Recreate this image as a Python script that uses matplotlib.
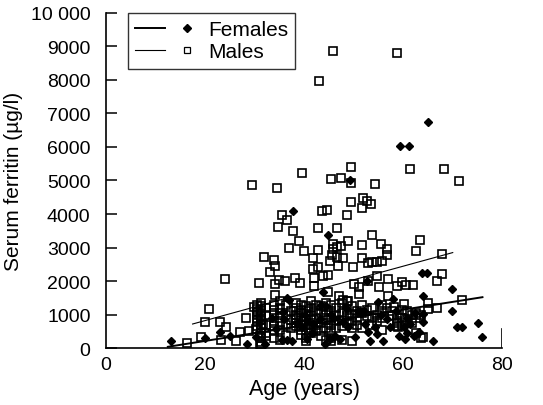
import numpy as np
import matplotlib
matplotlib.use("Agg")
import matplotlib.pyplot as plt
from matplotlib.legend_handler import HandlerTuple

plt.rcParams['font.family'] = ['Liberation Sans', 'DejaVu Sans']

# scattered male values (age in years, serum ferritin in ug/l)
male_age = [45.8, 58.7, 43.0, 39.5, 29.5, 34.5, 45.4, 47.4, 49.4, 49.4, 54.3, 61.4, 68.3, 71.3,
            35.6, 36.6, 34.8, 37.8, 38.9, 39.9, 36.9, 32.0, 33.9, 34.1, 33.2, 34.1, 31.0, 24.0,
            35.0, 36.2, 38.2, 39.2, 34.2, 20.9,
            49.5, 51.8, 52.6, 53.5, 51.6, 48.6, 43.6, 44.6, 42.8, 46.7, 53.7, 48.9, 47.4, 45.8,
            42.9, 45.9, 46.7, 51.7, 55.5, 56.7, 56.8, 63.3, 62.6,
            41.8, 45.7, 46.7, 47.9, 51.7, 52.9, 53.8, 54.7, 55.8, 41.9, 42.9, 46.8, 49.8, 45.3, 67.8,
            43.9, 44.9, 67.8, 66.8, 52.8, 54.8, 57.0, 50.0, 51.0, 51.0, 55.1, 58.7, 59.7, 60.6, 61.9,
            42.0, 42.0, 44.9, 47.1, 56.9, 48.9, 47.9, 58.1, 60.1, 65.1, 65.0, 71.9, 66.8, 58.7, 58.9, 64.1,
            16.3, 19.1, 20.1, 23.2, 23.0, 24.2, 26.3, 27.1, 28.3, 28.8, 30.2, 29.8, 30.4, 31.2, 31.2,
            31.4, 31.8]
male_ferritin = [8875, 8806, 7980, 5224, 4875, 4776, 5055, 5075, 5413, 4915, 4895, 5343, 5343, 4995,
                 3970, 3831, 3622, 3483, 3184, 2905, 2975, 2706, 2637, 2448, 2259, 1900, 1930, 2060,
                 2040, 2010, 2080, 1930, 1592, 1164,
                 4368, 4487, 4388, 4298, 4189, 3980, 4080, 4130, 3572, 3592, 3383, 3184, 3035, 3104,
                 2935, 2955, 3005, 3075, 3104, 2955, 2776, 3234, 2905,
                 2687, 2776, 2726, 2677, 2696, 2527, 2557, 2577, 2607, 2358, 2408, 2458, 2428, 2587, 2806,
                 2139, 2189, 2209, 2010, 2010, 2139, 2060, 1910, 1811, 1612, 1811, 1861, 1960, 1890, 1890,
                 2090, 1841, 1662, 1562, 1542, 1413, 1433, 1214, 1313, 1164, 1343, 1433, 1184, 746, 617, 338,
                 150, 320, 786, 250, 786, 617, 199, 468, 886, 517, 567, 1214, 1065, 119, 348,
                 866, 716]

# crowded low-value male columns: age -> values
male_dense = {
    30.4: [1300, 1180, 1080, 980, 880, 790, 650],
    31.3: [1350, 1250, 1150, 1050, 950, 850, 700, 600, 450, 300, 180, 60],
    32.4: [1200, 1000, 700, 450, 350],
    34.0: [1300, 1150, 1000, 800, 650, 500, 300],
    35.2: [1400, 1200, 1050, 900, 750, 550, 250],
    36.3: [1300, 1000, 700, 400],
    37.4: [1100, 850, 600],
    38.4: [1350, 1200, 1000, 900, 750, 650],
    39.3: [1300, 1150, 1050, 850, 700, 550, 400],
    40.3: [1250, 1100, 950, 800, 700, 500, 300, 200],
    41.4: [1400, 1200, 1000, 850, 600, 450],
    42.4: [1300, 1100, 900, 700, 500],
    43.4: [1250, 1050, 750, 550, 350],
    44.5: [1350, 1150, 1000, 850, 600, 250],
    45.5: [1300, 1100, 900, 700, 500, 300, 200],
    46.5: [1200, 1000, 800, 600],
    47.6: [1350, 1050, 850, 650, 250],
    48.6: [1400, 1150, 950, 750],
    49.6: [1250, 1000, 800, 600, 200],
    50.6: [1100, 900, 700],
    51.7: [1300, 1050, 600],
    52.7: [1150, 950],
    53.7: [1200, 900, 700],
    54.8: [1000, 800],
    55.7: [1300, 1100, 900, 550],
    56.8: [1200],
    57.8: [1100, 950],
    58.8: [1000, 800, 650],
    59.8: [1150, 900, 700],
    60.8: [1100, 850],
    61.8: [1000, 750],
    62.6: [1050, 900, 450],
    63.5: [1000, 300],
}

female_age = [13.1, 20.0, 23.0, 25.1, 28.4, 30.3, 32.1, 34.3, 35.5, 36.5, 37.5, 37.8, 36.6, 35.8,
              35.9, 39.5, 40.5, 41.5, 41.9, 43.2, 44.2, 44.9, 43.8, 45.3, 46.3, 47.3, 47.9, 48.8,
              50.2, 49.2, 50.8, 52.0, 52.3, 53.0, 53.4, 54.3, 54.7, 55.0, 56.0, 56.7, 57.4, 58.0,
              59.1, 59.4, 61.1, 65.1, 63.8, 64.8, 63.9, 63.9, 60.2, 60.7, 61.4, 62.1, 63.1, 63.9,
              66.1, 69.8, 69.8, 70.8, 71.8, 75.0, 75.9, 60.3, 52.6,
              37.0, 44.5, 48.5, 40.5, 33.5, 45.5, 51.5, 55.5, 58.5, 60.8, 62.3, 38.5, 40.2, 43.5, 46.0]
female_ferritin = [219, 289, 468, 368, 119, 318, 119, 567, 239, 239, 219, 4100, 1493, 1065,
                   866, 617, 269, 438, 716, 866, 119, 3373, 1662, 269, 368, 269, 766, 617,
                   318, 5015, 1114, 1114, 716, 468, 219, 617, 418, 1363, 219, 866, 617, 1463,
                   368, 6040, 6040, 6736, 2239, 2239, 1562, 1015, 617, 438, 716, 368, 468, 766,
                   219, 1761, 1094, 617, 617, 746, 318, 269, 2010,
                   1450, 1250, 1200, 800, 900, 1000, 1050, 1000, 1100, 900, 1050, 750, 1000, 1300, 900]

# regression lines
male_fit_age = [17.5, 70.0]
male_fit_value = [720, 2850]
female_fit_age = [12.5, 76.0]
female_fit_value = [40, 1520]

for a, vals in male_dense.items():
    male_age += [a] * len(vals)
    male_ferritin += vals

fig = plt.figure(figsize=(5.43, 4.06), dpi=100)
ax = fig.add_axes([0.195, 0.140, 0.730, 0.826])

ax.plot(male_age, male_ferritin, linestyle='none', marker='s', ms=5.8, mfc='none',
        mec='black', mew=1.2)
ax.plot(female_age, female_ferritin, linestyle='none', marker='D', ms=3.6, mfc='black',
        mec='black')
lm, = ax.plot(male_fit_age, male_fit_value, color='black', lw=0.8)
lf, = ax.plot(female_fit_age, female_fit_value, color='black', lw=1.4)

ax.set_xlim(0, 80)
ax.set_ylim(0, 10000)
ax.spines['top'].set_visible(False)
ax.spines['right'].set_visible(False)
ax.spines['left'].set_linewidth(1.2)
ax.spines['bottom'].set_linewidth(1.2)
ax.axvline(80, ymax=0.056, color='black', lw=1.2)

ax.set_yticks(np.arange(0, 10001, 1000))
ax.set_yticklabels(['0', '1000', '2000', '3000', '4000', '5000', '6000', '7000', '8000', '9000',
                    '10 000'])
ax.set_xticks([0, 20, 40, 60, 80])
ax.tick_params(axis='y', direction='in', length=8, width=1.1, labelsize=14, pad=11)
ax.tick_params(axis='x', length=0, labelsize=14, pad=6)

ax.set_xlabel('Age (years)', fontsize=15.5, labelpad=3)
ax.set_ylabel('Serum ferritin (µg/l)', fontsize=15, labelpad=6)

mf, = ax.plot([], [], linestyle='none', marker='D', ms=3.6, mfc='black', mec='black')
mm, = ax.plot([], [], linestyle='none', marker='s', ms=4.5, mfc='none', mec='black', mew=0.9)
leg = ax.legend([(lf, mf), (lm, mm)], ['Females', 'Males'],
                handler_map={tuple: HandlerTuple(ndivide=None, pad=0.3)},
                loc='upper left', bbox_to_anchor=(0.055, 1.0), handlelength=3.2,
                fontsize=15, frameon=True, fancybox=False, borderpad=0.35,
                labelspacing=0.15, handletextpad=0.3, borderaxespad=0)
leg.get_frame().set_edgecolor('black')
leg.get_frame().set_linewidth(1.0)

fig.savefig('out.png', dpi=100)
